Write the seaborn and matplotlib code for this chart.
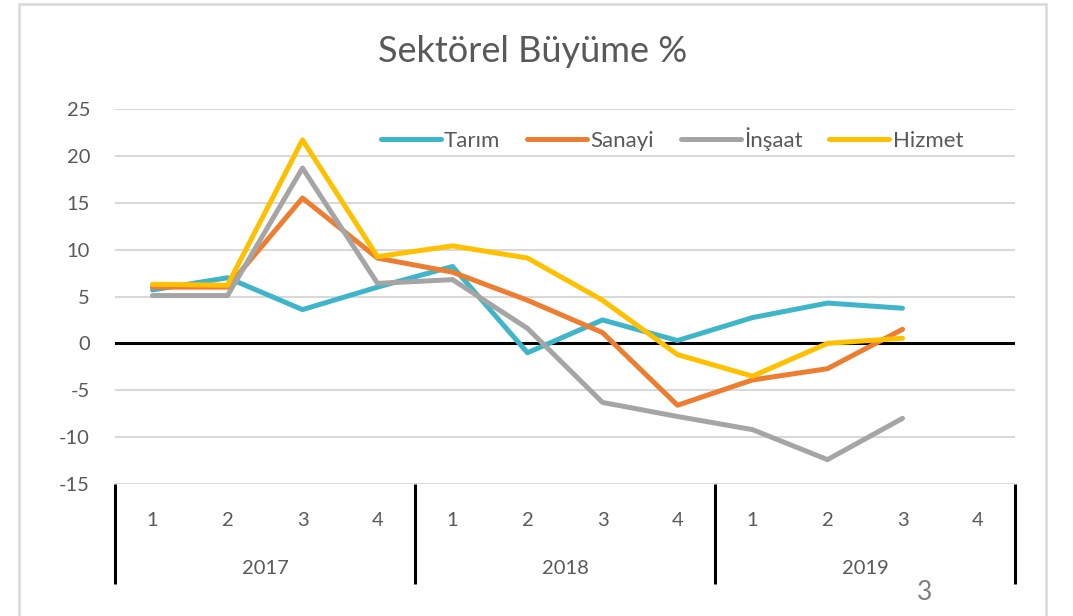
#!/usr/bin/env python3
import pandas as pd
import matplotlib
matplotlib.use("Agg")
import matplotlib.pyplot as plt
import matplotlib.transforms as mtransforms
from matplotlib.patches import Rectangle
import seaborn as sns

# --- data ---
years = ["2017", "2018", "2019"]
quarters = ["1", "2", "3", "4"]
tarim = [5.7, 7.0, 3.6, 6.0, 8.2, -1.0, 2.5, 0.3, 2.75, 4.3, 3.75, None]
sanayi = [6.0, 6.0, 15.5, 9.1, 7.6, 4.6, 1.15, -6.6, -3.9, -2.7, 1.5, None]
insaat = [5.1, 5.1, 18.7, 6.4, 6.8, 1.6, -6.3, -7.8, -9.2, -12.4, -8.0, None]
hizmet = [6.3, 6.2, 21.7, 9.25, 10.4, 9.1, 4.6, -1.2, -3.5, 0.0, 0.55, None]
series_names = ["Tarım", "Sanayi", "İnşaat", "Hizmet"]
colors = ["#3FB5C9", "#ED7D31", "#A5A5A5", "#FFC000"]

sns.set_theme(style="white")
plt.rcParams["font.family"] = ["Lato", "DejaVu Sans"]
plt.rcParams["axes.unicode_minus"] = False
TEXT_GREY = "#595959"

rows = []
for name, vals in zip(series_names, [tarim, sanayi, insaat, hizmet]):
    for i, v in enumerate(vals):
        if v is not None:
            rows.append({"pos": i, "value": v, "sector": name})
df = pd.DataFrame(rows)

fig = plt.figure(figsize=(10.73, 6.16), dpi=100)
ax = fig.add_axes([115 / 1073, 1 - 484 / 616, 900 / 1073, 375 / 616])

# grid lines
for g in range(-15, 30, 5):
    if g == 0:
        continue
    ax.axhline(g, color="#D9D9D9", linewidth=1.5, zorder=0)

sns.lineplot(data=df, x="pos", y="value", hue="sector", hue_order=series_names,
             palette=colors, linewidth=3.6, ax=ax, legend=True, zorder=3)
ax.axhline(0, color="black", linewidth=2.2, zorder=2)

n = len(years) * len(quarters)
ax.set_xlim(-0.5, n - 0.5)
ax.set_ylim(-15, 25)
ax.set_yticks(range(-15, 30, 5))
ax.tick_params(axis="y", length=0, pad=18, labelsize=14.5, labelcolor=TEXT_GREY)
ax.set_xticks([])
ax.set_xlabel("")
ax.set_ylabel("")
for s in ax.spines.values():
    s.set_visible(False)

# multi-level category axis
trans = mtransforms.blended_transform_factory(ax.transData, ax.transAxes)
for i in range(n):
    ax.text(i, -0.096, quarters[i % 4], transform=trans, ha="center", va="center",
            fontsize=14.5, color=TEXT_GREY)
for j, yr in enumerate(years):
    ax.text(j * 4 + 1.5, -0.224, yr, transform=trans, ha="center", va="center",
            fontsize=14.5, color=TEXT_GREY)
for j in range(len(years) + 1):
    ax.plot([j * 4 - 0.5, j * 4 - 0.5], [0, -0.267], transform=trans, color="black",
            linewidth=2.2, clip_on=False, solid_capstyle="butt")

leg = ax.legend(loc="center", bbox_to_anchor=(672 / 1073, 1 - 139 / 616),
                bbox_transform=fig.transFigure, ncol=4, frameon=False,
                fontsize=16, handlelength=2.7, handletextpad=0.15,
                columnspacing=1.2)
for t in leg.get_texts():
    t.set_color(TEXT_GREY)
for h in leg.get_lines():
    h.set_linewidth(3.6)
    h.set_solid_capstyle("round")

fig.text(533 / 1073, 1 - 52 / 616, "Sektörel Büyüme %", ha="center", va="center",
         fontsize=26, color=TEXT_GREY)
fig.text(925 / 1073, 1 - 592 / 616, "3", ha="center", va="center",
         fontsize=19, color="#7F7F7F")

fig.add_artist(Rectangle((19 / 1073, -0.05), (1046 - 19) / 1073, 1.05 - 4 / 616,
                         transform=fig.transFigure, fill=False,
                         edgecolor="#D9D9D9", linewidth=1.8))

fig.savefig("out.png", dpi=100)
